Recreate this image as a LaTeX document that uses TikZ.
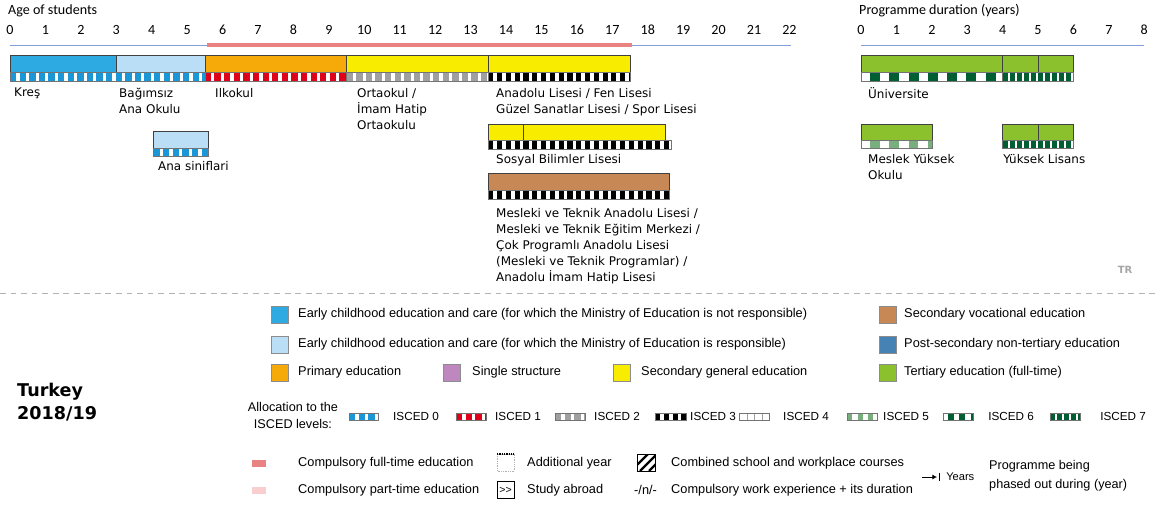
\documentclass[tikz,border=0pt]{standalone}
\usepackage{fontspec}
\setmainfont{Liberation Sans}
\newfontfamily\chartfont{DejaVu Sans}
\newfontfamily\axisfont{Carlito}
\usetikzlibrary{arrows.meta}

\definecolor{ecenot}{RGB}{44,170,225}
\definecolor{eceres}{RGB}{185,222,245}
\definecolor{primcol}{RGB}{245,170,10}
\definecolor{secgen}{RGB}{248,236,0}
\definecolor{secvoc}{RGB}{200,136,86}
\definecolor{postsec}{RGB}{70,130,180}
\definecolor{tertcol}{RGB}{138,193,45}
\definecolor{singlecol}{RGB}{190,135,190}
\definecolor{compfull}{RGB}{233,130,130}
\definecolor{comppart}{RGB}{249,206,206}
\definecolor{axisblue}{RGB}{130,160,215}
\definecolor{iscblue}{RGB}{27,150,215}
\definecolor{iscred}{RGB}{225,0,25}
\definecolor{iscgray}{RGB}{160,160,160}
\definecolor{isclight}{RGB}{120,175,125}
\definecolor{iscdark}{RGB}{0,95,50}

\newcommand*\agex[1]{10+35.43*(#1)}
\newcommand*\durx[1]{861+35.4*(#1)}
\newcommand\isband[5]{%
  \fill[white] ({#1},#3) rectangle ({#2},#4);
  \draw[#5] ({#1},{(#3+#4)/2}) -- ({#2},{(#3+#4)/2});
  \draw[band] ({#1},#3) rectangle ({#2},#4);}

\tikzset{
  prog/.style={draw=black!75,line width=0.5pt},
  band/.style={draw=black!55,line width=0.4pt},
  bandline/.style={line width=7pt},
  isczero/.style={bandline,draw=iscblue,dash pattern=on 5.4pt off 2.8pt},
  iscone/.style={bandline,draw=iscred,dash pattern=on 5.4pt off 2.8pt},
  isctwo/.style={bandline,draw=iscgray,dash pattern=on 5.4pt off 2.8pt},
  iscthree/.style={bandline,draw=black,dash pattern=on 4.4pt off 3.1pt},
  iscfour/.style={bandline,draw=iscgray,dash pattern=on 0.5pt off 6pt},
  iscfive/.style={bandline,draw=isclight,dash pattern=on 8.3pt off 8pt,dash phase=8.3pt},
  iscsix/.style={bandline,draw=iscdark,dash pattern=on 8.5pt off 7.9pt,dash phase=8.5pt},
  iscseven/.style={bandline,draw=iscdark,dash pattern=on 4.3pt off 1.7pt},
  axis/.style={font=\axisfont\fontsize{12}{14}\selectfont,inner sep=0pt},
  lbl/.style={anchor=north west,inner sep=0pt,align=left,font=\chartfont\fontsize{10.2}{13.8}\selectfont},
  key/.style={anchor=west,inner sep=0pt,font=\fontsize{10.9}{13}\selectfont},
  isckey/.style={key,font=\fontsize{10}{12}\selectfont},
  keybox/.style={draw=black!45,line width=0.4pt},
}

\begin{document}
\begin{tikzpicture}[x=0.03cm,y=-0.03cm]
  \useasboundingbox (0,0) rectangle (1157,507);

  \node[axis,anchor=west] (agetitle) at (8,11) {Age of students};
  \foreach \a in {0,...,22}
    \node[axis] (age\a) at ({\agex{\a}},30) {\a};
  \draw[axisblue,line width=0.8pt] ({\agex{0}},45) -- ({\agex{22.05}},45);
  \draw[compfull,line width=3.4pt] (207,45) -- (632,45);

  \node[axis,anchor=west] (durtitle) at (859,11) {Programme duration (years)};
  \foreach \d in {0,...,8}
    \node[axis] (dur\d) at ({\durx{\d}},30) {\d};
  \draw[axisblue,line width=0.8pt] ({\durx{0}},45) -- ({\durx{8}},45);

  \draw[prog,fill=ecenot] ({\agex{0}},55) rectangle ({\agex{3}},72);
  \draw[prog,fill=eceres] ({\agex{3}},55) rectangle ({\agex{5.5}},72);
  \draw[prog,fill=primcol] ({\agex{5.5}},55) rectangle ({\agex{9.5}},72);
  \draw[prog,fill=secgen] ({\agex{9.5}},55) rectangle ({\agex{13.5}},72);
  \draw[prog,fill=secgen] ({\agex{13.5}},55) rectangle ({\agex{17.5}},72);
  \isband{\agex{0}}{\agex{5.5}}{72}{81}{isczero}
  \isband{\agex{5.5}}{\agex{9.5}}{72}{81}{iscone}
  \isband{\agex{9.5}}{\agex{13.5}}{72}{81}{isctwo}
  \isband{\agex{13.5}}{\agex{17.5}}{72}{81}{iscthree}
  \node[lbl] (kres) at (14,88) {Kreş};
  \node[lbl] (bagimsiz) at (119,88) {Bağımsız\\Ana Okulu};
  \node[lbl] (ilkokul) at (215,88) {Ilkokul};
  \node[lbl] (ortaokul) at (357,88) {Ortaokul /\\İmam Hatip\\Ortaokulu};
  \node[lbl] (anadolu) at (496,88) {Anadolu Lisesi / Fen Lisesi\\Güzel Sanatlar Lisesi / Spor Lisesi};

  \draw[prog,fill=eceres] ({\agex{4.05}},131) rectangle ({\agex{5.6}},148);
  \isband{\agex{4.05}}{\agex{5.6}}{148}{156}{isczero}
  \node[lbl] (anasinif) at (158,161) {Ana siniflari};

  \draw[prog,fill=secgen] ({\agex{13.5}},124) rectangle ({\agex{14.5}},140);
  \draw[prog,fill=secgen] ({\agex{14.5}},124) rectangle ({\agex{18.5}},140);
  \isband{\agex{13.5}}{\agex{18.65}}{140}{149}{iscthree}
  \node[lbl] (sosyal) at (496,154) {Sosyal Bilimler Lisesi};

  \draw[prog,fill=secvoc] ({\agex{13.5}},173) rectangle ({\agex{18.6}},190);
  \isband{\agex{13.5}}{\agex{18.6}}{190}{199}{iscthree}
  \node[lbl] (mesleki) at (496,208) {Mesleki ve Teknik Anadolu Lisesi /\\Mesleki ve Teknik Eğitim Merkezi /\\Çok Programlı Anadolu Lisesi\\(Mesleki ve Teknik Programlar) /\\Anadolu İmam Hatip Lisesi};

  \draw[prog,fill=tertcol] ({\durx{0}},55) rectangle ({\durx{4}},72);
  \draw[prog,fill=tertcol] ({\durx{4}},55) rectangle ({\durx{5}},72);
  \draw[prog,fill=tertcol] ({\durx{5}},55) rectangle ({\durx{6}},72);
  \isband{\durx{0}}{\durx{4}}{72}{81}{iscsix}
  \isband{\durx{4}}{\durx{6}}{72}{81}{iscseven}
  \node[lbl] (universite) at (868,87) {Üniversite};

  \draw[prog,fill=tertcol] ({\durx{0}},124) rectangle ({\durx{2}},140);
  \isband{\durx{0}}{\durx{2}}{140}{148}{iscfive}
  \node[lbl] (myo) at (868,154) {Meslek Yüksek\\Okulu};

  \draw[prog,fill=tertcol] ({\durx{4}},124) rectangle ({\durx{5}},140);
  \draw[prog,fill=tertcol] ({\durx{5}},124) rectangle ({\durx{6}},140);
  \isband{\durx{4}}{\durx{6}}{140}{148}{iscseven}
  \node[lbl] (lisans) at (1003,154) {Yüksek Lisans};

  \node[font=\chartfont\bfseries\fontsize{8.5}{9}\selectfont,text=black!35,inner sep=0pt] (tr) at (1125,270) {TR};
  \draw[black!30,line width=0.6pt,dash pattern=on 5pt off 4pt] (0,293) -- (1157,293);

  \draw[keybox,fill=ecenot] (271,306) rectangle (288,323);
  \node[key] (keyecenot) at (298,314) {Early childhood education and care (for which the Ministry of Education is not responsible)};
  \draw[keybox,fill=eceres] (271,336) rectangle (288,353);
  \node[key] (keyeceres) at (298,344) {Early childhood education and care (for which the Ministry of Education is responsible)};
  \draw[keybox,fill=primcol] (271,364) rectangle (288,381);
  \node[key] (keyprim) at (298,372) {Primary education};
  \draw[keybox,fill=singlecol] (443,364) rectangle (460,381);
  \node[key] (keysingle) at (472,372) {Single structure};
  \draw[keybox,fill=secgen] (613,364) rectangle (630,381);
  \node[key] (keysecgen) at (641,372) {Secondary general education};
  \draw[keybox,fill=secvoc] (879,306) rectangle (896,323);
  \node[key] (keysecvoc) at (904,314) {Secondary vocational education};
  \draw[keybox,fill=postsec] (879,336) rectangle (896,353);
  \node[key] (keypostsec) at (904,344) {Post-secondary non-tertiary education};
  \draw[keybox,fill=tertcol] (879,364) rectangle (896,381);
  \node[key] (keytert) at (904,372) {Tertiary education (full-time)};

  \node[anchor=west,align=left,inner sep=0pt,font=\chartfont\bfseries\fontsize{15}{19.6}\selectfont] (country) at (17,402) {Turkey\\2018/19};

  \node[align=center,inner sep=0pt,font=\fontsize{10.8}{14.5}\selectfont] (alloc) at (293,415) {Allocation to the\\ISCED levels:};
  \isband{349}{378}{413}{420}{isczero,line width=5.5pt}
  \node[isckey] (keyisc0) at (393,416) {ISCED 0};
  \isband{456}{486}{413}{420}{iscone,line width=5.5pt}
  \node[isckey] (keyisc1) at (495,416) {ISCED 1};
  \isband{555}{585}{413}{420}{isctwo,line width=5.5pt}
  \node[isckey] (keyisc2) at (594,416) {ISCED 2};
  \isband{655}{686}{413}{420}{iscthree,line width=5.5pt}
  \node[isckey] (keyisc3) at (690,416) {ISCED 3};
  \isband{739}{769}{413}{420}{iscfour,line width=5.5pt}
  \node[isckey] (keyisc4) at (783,416) {ISCED 4};
  \isband{847}{877}{413}{420}{iscfive,line width=5.5pt,dash pattern=on 4.5pt off 4.5pt,dash phase=0pt}
  \node[isckey] (keyisc5) at (883,416) {ISCED 5};
  \isband{943}{973}{413}{420}{iscsix,line width=5.5pt,dash pattern=on 5pt off 4.5pt,dash phase=5pt}
  \node[isckey] (keyisc6) at (988,416) {ISCED 6};
  \isband{1050}{1080}{413}{420}{iscseven,line width=5.5pt}
  \node[isckey] (keyisc7) at (1100,416) {ISCED 7};

  \fill[compfull] (252,460) rectangle (266,467);
  \node[key] (keyfull) at (298,463) {Compulsory full-time education};
  \fill[comppart] (252,487) rectangle (266,494);
  \node[key] (keypart) at (298,490) {Compulsory part-time education};

  \draw[black!30,densely dotted,line width=0.5pt] (497,454) rectangle (514,471);
  \draw[black,densely dotted,line width=1pt] (497,454) -- (514,454);
  \node[key] (keyaddyear) at (527,463) {Additional year};
  \node[draw,line width=0.5pt,minimum width=17*0.03cm,minimum height=17*0.03cm,inner sep=0pt,font=\fontsize{9}{10}\selectfont] (abroadbox) at (505.5,490) {{>}{>}};
  \node[key] (keyabroad) at (527,490) {Study abroad};

  \begin{scope}
    \clip (637,454) rectangle (655,471);
    \foreach \s in {-6,3,12,21}
      \draw[line width=2pt] ({637+\s},471) -- ({637+\s+17},454);
  \end{scope}
  \draw[line width=0.5pt] (637,454) rectangle (655,471);
  \node[key] (keycombined) at (671,463) {Combined school and workplace courses};
  \node[key] (keyworkexp) at (634,490) {-/n/-};
  \node[key] (keyworkexptxt) at (671,490) {Compulsory work experience + its duration};

  \coordinate (phase0) at (922,477);
  \coordinate (phase1) at (937,477);
  \draw[-{Latex[length=4pt,width=4.5pt]},line width=0.8pt] (phase0) -- (phase1);
  \draw[line width=0.6pt] (939,473) -- (939,481);
  \node[key,font=\fontsize{9.5}{11}\selectfont] (keyyears) at (946,477) {Years};
  \node[key,align=left,font=\fontsize{10.8}{16}\selectfont] (keyphase) at (989,476) {Programme being\\phased out during (year)};
\end{tikzpicture}
\end{document}
